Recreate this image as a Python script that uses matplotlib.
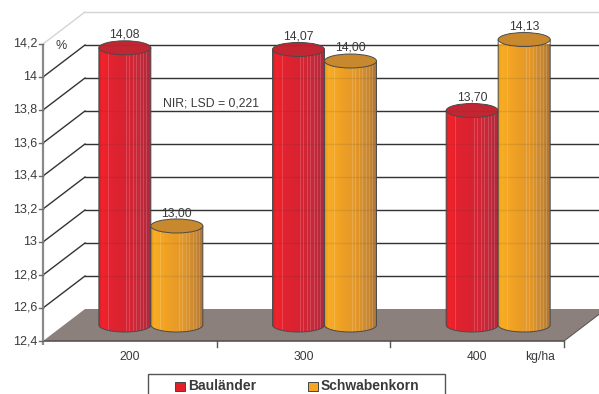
import numpy as np
import matplotlib
matplotlib.use("Agg")
import matplotlib.pyplot as plt
from matplotlib.patches import Polygon, Ellipse, Rectangle
from matplotlib.colors import to_rgb

# ---- data -------------------------------------------------------------
categories = ["200", "300", "400"]
series_names = ["Bauländer", "Schwabenkorn"]
baulaender = [14.08, 14.07, 13.70]
schwabenkorn = [13.00, 14.00, 14.13]
y_ticks = [12.4, 12.6, 12.8, 13.0, 13.2, 13.4, 13.6, 13.8, 14.0, 14.2]
y_tick_labels = ["12,4", "12,6", "12,8", "13", "13,2", "13,4", "13,6", "13,8", "14", "14,2"]
x_unit = "kg/ha"
y_unit = "%"
lsd_note = "NIR; LSD = 0,221"

# ---- styling ----------------------------------------------------------
plt.rcParams["font.family"] = ["Liberation Sans", "DejaVu Sans"]
TXT = "#3a3a3a"
W, H, DPI = 599, 394, 100

fig = plt.figure(figsize=(W / DPI, H / DPI), dpi=DPI)
ax = fig.add_axes([43 / W, 53 / H, 521 / W, 297 / H])
ymin, ymax = y_ticks[0], y_ticks[-1]
ncat = len(categories)
ax.set_xlim(0, ncat)
ax.set_ylim(ymin, ymax)
ax.axis("off")

# pixel -> data conversion for the oblique depth projection
px_x = 521 / ncat
px_y = 297 / (ymax - ymin)
ddx, ddy = 42 / px_x, 32 / px_y          # full depth offset (back wall)
bar_w = 52 / px_x                        # cylinder diameter
ell_h = 7.0 / px_y                       # half height of cylinder end caps

# ---- back wall gridlines, side wall and floor -------------------------
for v in y_ticks[1:]:
    col = "#d4d4d4" if v == ymax else "#333333"
    ax.plot([0, ddx], [v, v + ddy], color=col, lw=1.0, zorder=1, clip_on=False)
    ax.plot([ddx, ncat + ddx], [v + ddy, v + ddy], color=col, lw=1.0,
            zorder=1, clip_on=False)

floor = Polygon([(0, ymin), (ncat, ymin), (ncat + ddx, ymin + ddy), (ddx, ymin + ddy)],
                closed=True, facecolor="#8b807c", edgecolor="none",
                zorder=2, clip_on=False)
ax.add_patch(floor)
ax.plot([ncat, ncat + ddx], [ymin, ymin + ddy], color="#5a5a5a", lw=0.8, zorder=2,
        clip_on=False)


def shade(stops, stripes, n=52, lift=0.16):
    t = np.linspace(0, 1, n)
    pos = [s[0] for s in stops]
    cols = np.array([to_rgb(s[1]) for s in stops])
    img = np.stack([np.interp(t, pos, cols[:, k]) for k in range(3)], axis=-1)
    for s in stripes:
        i = int(round(s * (n - 1)))
        img[i] = img[i] + (1 - img[i]) * lift
    return img[None, :, :]


red_img = shade([(0, "#d42029"), (0.05, "#f2232b"), (0.25, "#e02230"), (0.5, "#d92332"),
                 (0.75, "#c9293a"), (1, "#b0283a")],
                [0.17, 0.52, 0.58, 0.66, 0.73, 0.81, 0.87, 0.93])
org_img = shade([(0, "#e39a22"), (0.05, "#f9ad23"), (0.3, "#f0a125"), (0.6, "#e2982a"),
                 (0.85, "#c88632"), (1, "#a97436")],
                [0.17, 0.52, 0.58, 0.66, 0.73, 0.81, 0.87, 0.93])
styles = [(red_img, "#c22632"), (org_img, "#c8882e")]


def cylinder(xc, value, img, top_color, z):
    half = bar_w / 2
    yb = ymin + ddy / 2
    yt = value + ddy / 2
    th = np.linspace(np.pi, 2 * np.pi, 80)
    verts = ([(xc - half, yt)]
             + list(zip(xc + half * np.cos(th), yb + ell_h * np.sin(th)))
             + [(xc + half, yt)])
    body = Polygon(verts, closed=True, facecolor="none", edgecolor="#4a4a4a",
                   lw=0.7, zorder=z + 0.1, clip_on=False)
    ax.add_patch(body)
    im = ax.imshow(img, extent=[xc - half, xc + half, yb - ell_h, yt], aspect="auto",
                   interpolation="nearest", zorder=z)
    im.set_clip_box(None)
    im.set_clip_path(body)
    ax.add_patch(Ellipse((xc, yt), bar_w, 2 * ell_h, facecolor=top_color,
                         edgecolor="#4a4a4a", lw=0.7, zorder=z + 0.2, clip_on=False))
    ax.text(xc, yt + ell_h + 3 / px_y, f"{value:.2f}".replace(".", ","),
            ha="center", va="baseline", fontsize=8.7, color=TXT, zorder=20)


z = 3
for i in range(ncat):
    for s, vals in enumerate([baulaender, schwabenkorn]):
        xc = i + 0.5 + ddx / 2 + (s - 0.5) * bar_w
        cylinder(xc, vals[i], styles[s][0], styles[s][1], z)
        z += 1

# faint back gridlines seen through the cylinders
for v in y_ticks[1:-1]:
    ax.plot([ddx, ncat + ddx], [v + ddy, v + ddy], color="#333333", lw=1.0,
            alpha=0.1, zorder=15, clip_on=False)

ax.set_xlim(0, ncat)
ax.set_ylim(ymin, ymax)

# ---- axes -------------------------------------------------------------
ax.plot([0, ncat], [ymin, ymin], color="#555555", lw=1.2, zorder=16, clip_on=False)
for i in range(1, ncat + 1):
    ax.plot([i, i], [ymin, ymin - 6 / px_y], color="#555555", lw=1.0, zorder=16,
            clip_on=False)
ax.plot([0, 0], [ymin - 4 / px_y, ymax], color="#8a8a8a", lw=1.6, zorder=17,
        clip_on=False, solid_capstyle="butt")
for v, lab in zip(y_ticks, y_tick_labels):
    ax.plot([-4 / px_x, 0], [v, v], color="#6a6a6a", lw=1.0, zorder=17, clip_on=False)
    ax.text(-6 / px_x, v, lab, ha="right", va="center", fontsize=9, color=TXT)

for i, c in enumerate(categories):
    ax.text(i + 0.5, ymin - 16 / px_y, c, ha="center", va="center", fontsize=8.7,
            color=TXT)
ax.text(2.86, ymin - 16 / px_y, x_unit, ha="center", va="center", fontsize=8.7,
        color=TXT)
ax.text(0.035, 0.993, y_unit, transform=ax.transAxes, ha="center", va="center",
        fontsize=9, color=TXT)
ax.text(0.230, 0.801, lsd_note, transform=ax.transAxes, ha="left", va="center",
        fontsize=8.8, color=TXT, zorder=20)

# ---- legend -----------------------------------------------------------
def fx(px):
    return px / W


def fy(py):
    return 1 - py / H


fig.add_artist(Rectangle((fx(148), fy(400)), fx(445) - fx(148), fy(374) - fy(400),
                         transform=fig.transFigure, facecolor="white",
                         edgecolor="#555555", lw=1.0, clip_on=False))
for name, color, x0 in zip(series_names, ["#e3202a", "#f5a623"], [175, 308]):
    fig.add_artist(Rectangle((fx(x0), fy(391)), fx(10), fy(382) - fy(391),
                             transform=fig.transFigure, facecolor=color,
                             edgecolor="#444444", lw=0.7))
    fig.text(fx(x0 + 13), fy(386.5), name, ha="left", va="center", fontsize=10,
             fontweight="bold", color=TXT)

fig.savefig("out.png", dpi=DPI)
